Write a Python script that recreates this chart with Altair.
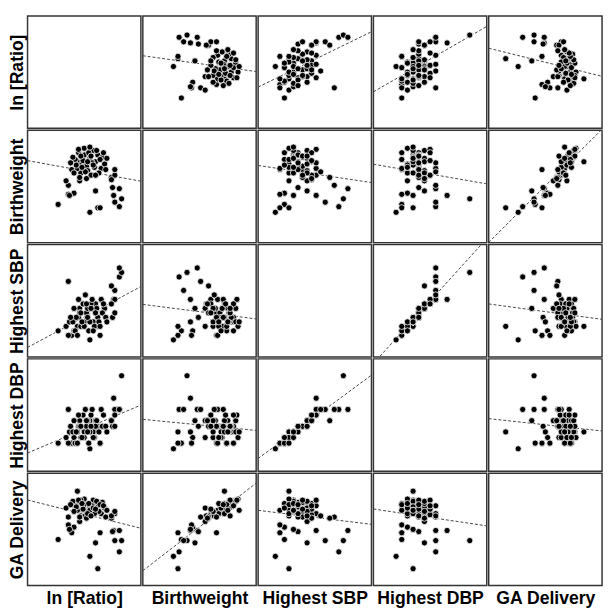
import altair as alt
import pandas as pd

variables = ["lnratio", "bw", "sbp", "dbp", "ga"]
labels = ["ln [Ratio]", "Birthweight", "Highest SBP", "Highest DBP", "GA Delivery"]

ln_ratio = [2.16, 4.96, 4.40, 6.48, 4.80, 6.64, 6.16, 5.12, 6.08, 6.48, 3.12, 3.28, 2.88, 2.88, 2.72,
            3.52, 5.92, 6.16, 6.00, 5.92, 6.16, 3.68, 2.96,
            3.60, 4.00, 4.40, 3.84, 4.80, 4.16, 3.36, 4.64, 5.20, 3.76, 4.24, 3.20, 4.96, 4.48,
            3.52, 5.44, 4.00, 4.56, 3.68, 5.04, 4.32, 3.92, 5.28, 3.44, 4.72, 4.08, 4.88, 3.76,
            4.40, 5.52, 3.28, 5.12, 4.16, 4.64, 3.60, 5.36, 4.24, 4.80, 3.84, 4.48, 5.60, 3.04]
birthweight = [1360, 1240, 1080, 1280, 1840, 1560, 1440, 1240, 1680, 1920, 2600, 1760, 1720, 2040, 2200,
               2880, 2320, 2400, 1960, 2240, 2600, 2200, 1680,
               3200, 3120, 3000, 2800, 2880, 2720, 2960, 3280, 2640, 2480, 2560, 3040, 3120, 2400,
               2640, 2800, 3360, 2840, 2320, 2480, 3200, 2920, 3040, 2760, 2680, 2520, 3280, 3080,
               3400, 2600, 2480, 2960, 2280, 2760, 3320, 3200, 2880, 2400, 2680, 3080, 3000, 2840]
highest_sbp = [145, 150, 135, 205, 170, 210, 190, 140, 180, 215, 140, 145, 140, 200, 150,
               150, 195, 180, 160, 175, 165, 170, 155,
               160, 155, 170, 150, 175, 165, 145, 155, 180, 150, 170, 155, 160, 175,
               140, 170, 150, 180, 165, 155, 145, 175, 165, 160, 150, 185, 170, 165,
               155, 160, 170, 150, 175, 145, 180, 175, 160, 165, 155, 170, 155, 160]
highest_dbp = [85, 95, 80, 115, 105, 145, 115, 85, 125, 115, 85, 90, 85, 115, 90,
               95, 105, 110, 100, 105, 100, 105, 95,
               100, 95, 105, 90, 105, 100, 85, 95, 115, 90, 105, 95, 100, 110,
               85, 100, 90, 115, 100, 95, 85, 110, 100, 95, 90, 115, 105, 100,
               95, 100, 105, 85, 105, 90, 110, 110, 95, 100, 90, 100, 95, 100]
ga_delivery = [30.2, 25.0, 27.2, 28.0, 29.6, 30.0, 30.0, 31.4, 31.8, 31.8, 31.4, 32.4, 32.8, 34.2, 35.8,
               38.8, 34.0, 34.8, 31.6, 34.4, 35.2, 33.4, 32.0,
               36.8, 36.4, 36.0, 35.6, 36.6, 35.2, 36.2, 37.2, 34.8, 34.4, 35.0, 37.0, 36.0, 34.6,
               35.4, 35.8, 37.4, 36.2, 34.2, 35.2, 36.6, 35.6, 36.8, 36.0, 34.8, 34.4, 37.0, 37.2,
               35.4, 34.2, 35.2, 36.4, 34.0, 35.8, 37.2, 36.2, 34.8, 35.6, 36.6, 34.4, 35.4, 36.4]

domains = {
    "lnratio": [0, 8],
    "bw": [0, 4000],
    "sbp": [116, 241],
    "dbp": [60, 160],
    "ga": [22, 42],
}

df = pd.DataFrame({
    "lnratio": ln_ratio,
    "bw": birthweight,
    "sbp": highest_sbp,
    "dbp": highest_dbp,
    "ga": ga_delivery,
})

FONT = "Liberation Sans"
CELL_W = 116
CELL_H = 115


def title_axis(text, pad):
    return alt.Axis(title=text, labels=False, ticks=False, domain=False, grid=False,
                    titleFont=FONT, titleFontSize=18, titleFontWeight="bold",
                    titleColor="black", titlePadding=pad)


cells = []
for i, yv in enumerate(variables):
    for j, xv in enumerate(variables):
        xaxis = title_axis(labels[j], 4) if i == 4 else None
        yaxis = title_axis(labels[i], 1) if j == 0 else None
        xenc = alt.X(xv, type="quantitative",
                     scale=alt.Scale(domain=domains[xv], nice=False, zero=False), axis=xaxis)
        yenc = alt.Y(yv, type="quantitative",
                     scale=alt.Scale(domain=domains[yv], nice=False, zero=False), axis=yaxis)
        if i == j:
            cell = alt.Chart(df).mark_circle(opacity=0).encode(x=xenc, y=yenc)
        else:
            pts = alt.Chart(df).mark_circle(
                size=40, color="black", opacity=1, stroke="white", strokeWidth=0.8
            ).encode(x=xenc, y=yenc)
            line = alt.Chart(df).transform_regression(
                xv, yv, extent=domains[xv]
            ).mark_line(
                clip=True, color="#444444", strokeWidth=1, strokeDash=[3, 2]
            ).encode(x=xenc, y=yenc)
            cell = alt.layer(line, pts)
        cells.append(cell.properties(width=CELL_W, height=CELL_H))

chart = alt.concat(*cells, columns=5, spacing=0).configure_view(
    stroke="#333333", strokeWidth=1.5
).properties(
    padding={"left": 0, "top": 0, "right": 1, "bottom": 0}
)

chart.save("out.html", embed_options={"renderer": "svg", "actions": False})
